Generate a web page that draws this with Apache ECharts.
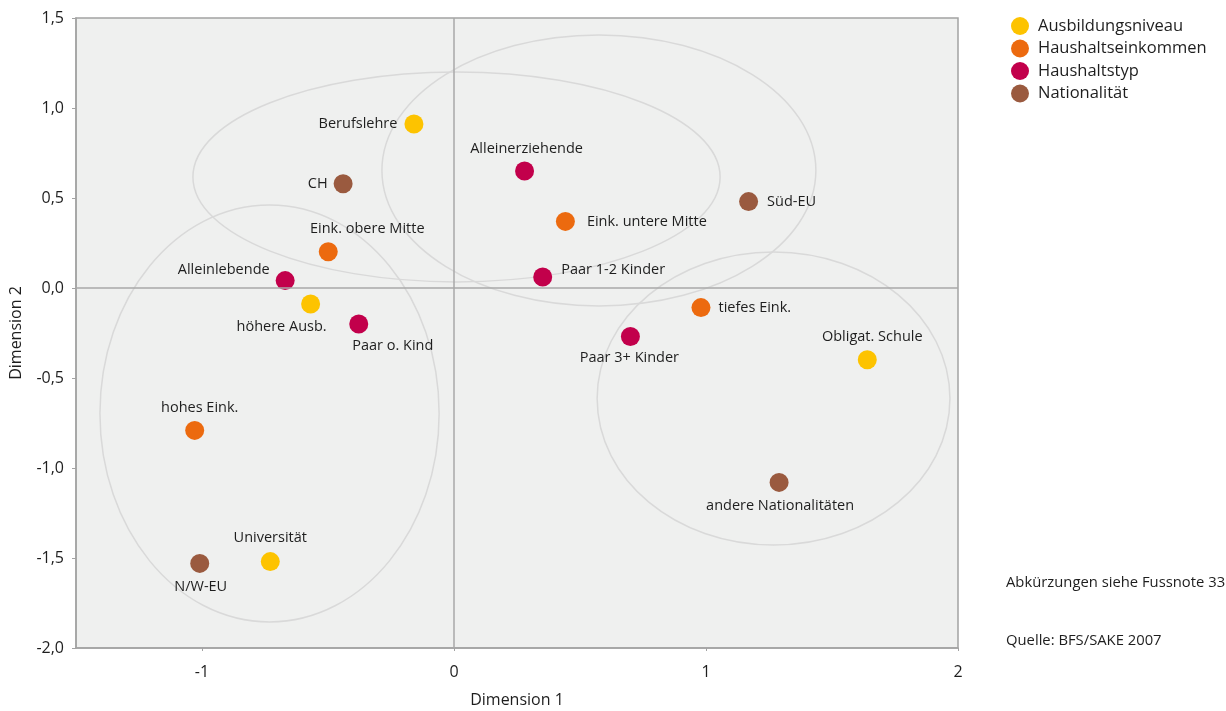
<!DOCTYPE html>
<html>
<head>
<meta charset="utf-8">
<script src="https://cdn.jsdelivr.net/npm/echarts@6/dist/echarts.min.js"></script>
<style>
html,body{margin:0;padding:0;background:#fff;}
#chart{width:1226px;height:711px;}
</style>
</head>
<body>
<div id="chart"></div>
<script>
// ---- data ----
const groupNames = ['Ausbildungsniveau', 'Haushaltseinkommen', 'Haushaltstyp', 'Nationalität'];
const groupColors = ['#FDC300', '#EC6A0F', '#C2004B', '#9A5A3F'];

const pointNames = ['Berufslehre', 'höhere Ausb.', 'Obligat. Schule', 'Universität',
  'Eink. untere Mitte', 'Eink. obere Mitte', 'tiefes Eink.', 'hohes Eink.',
  'Alleinerziehende', 'Paar 1-2 Kinder', 'Paar 3+ Kinder', 'Alleinlebende', 'Paar o. Kind',
  'CH', 'Süd-EU', 'andere Nationalitäten', 'N/W-EU'];
const pointX = [-0.159, -0.569, 1.640, -0.729,
  0.442, -0.499, 0.980, -1.029,
  0.280, 0.352, 0.700, -0.670, -0.378,
  -0.440, 1.169, 1.290, -1.009];
const pointY = [0.911, -0.089, -0.399, -1.520,
  0.370, 0.201, -0.109, -0.791,
  0.650, 0.061, -0.269, 0.041, -0.200,
  0.579, 0.480, -1.080, -1.530];
const pointGroup = [0, 0, 0, 0, 1, 1, 1, 1, 2, 2, 2, 2, 2, 3, 3, 3, 3];

// ellipses (data units)
const ellipseCx = [0.010, 0.575, -0.732, 1.268];
const ellipseCy = [0.617, 0.653, -0.697, -0.614];
const ellipseRx = [1.046, 0.861, 0.673, 0.700];
const ellipseRy = [0.583, 0.753, 1.158, 0.814];

// ticks
const xTicks = [-1, 0, 1, 2];
const yTicks = [-2, -1.5, -1, -0.5, 0, 0.5, 1, 1.5];

// label placement (style): [position, offsetX, offsetY, distance]
const labelPlace = {
  'Berufslehre': ['left', 0, 0, 7],
  'höhere Ausb.': ['bottom', -29, 0, 6],
  'Obligat. Schule': ['top', 5, 0, 6],
  'Universität': ['top', 0, 0, 7],
  'Eink. untere Mitte': ['right', 0, 0, 12],
  'Eink. obere Mitte': ['top', 39, 0, 6],
  'tiefes Eink.': ['right', 0, 0, 8],
  'hohes Eink.': ['top', 5, 0, 6],
  'Alleinerziehende': ['top', 2, 0, 5],
  'Paar 1-2 Kinder': ['right', 0, -7, 9],
  'Paar 3+ Kinder': ['bottom', -1, 0, 4],
  'Alleinlebende': ['left', 0, -11, 6],
  'Paar o. Kind': ['bottom', 34, 0, 5],
  'CH': ['left', 0, 0, 6],
  'Süd-EU': ['right', 0, 0, 9],
  'andere Nationalitäten': ['bottom', 1, 0, 6],
  'N/W-EU': ['bottom', 1, 0, 6]
};

const FONT = '"Open Sans", "Noto Sans", sans-serif';

const chart = echarts.init(document.getElementById('chart'), null, {renderer: 'canvas'});

const ellipseData = ellipseCx.map((c, i) => [c, ellipseCy[i], ellipseRx[i], ellipseRy[i]]);

const series = [];
series.push({
  type: 'custom',
  silent: true,
  z: 1,
  data: ellipseData,
  renderItem: function (params, api) {
    const c = api.coord([api.value(0), api.value(1)]);
    const s = api.size([api.value(2), api.value(3)]);
    return {
      type: 'ellipse',
      shape: {cx: c[0], cy: c[1], rx: s[0], ry: s[1]},
      style: {fill: 'none', stroke: '#d9d9d9', lineWidth: 1.5}
    };
  },
  markLine: {
    silent: true,
    symbol: 'none',
    label: {show: false},
    lineStyle: {color: '#a8a8a8', type: 'solid', width: 1.5},
    data: [{xAxis: 0}, {yAxis: 0}]
  }
});

groupNames.forEach((g, gi) => {
  const data = [];
  pointNames.forEach((n, i) => {
    if (pointGroup[i] !== gi) return;
    const p = labelPlace[n];
    data.push({
      name: n,
      value: [pointX[i], pointY[i]],
      label: {position: p[0], offset: [p[1], p[2]], distance: p[3]}
    });
  });
  series.push({
    name: g,
    type: 'scatter',
    z: 3,
    symbol: 'circle',
    symbolSize: 19,
    itemStyle: {color: groupColors[gi], opacity: 1},
    label: {
      show: true,
      formatter: '{b}',
      color: '#1e1e1e',
      fontSize: 14.5,
      fontFamily: FONT
    },
    emphasis: {disabled: true},
    data: data
  });
});

chart.setOption({
  animation: false,
  backgroundColor: '#ffffff',
  textStyle: {fontFamily: FONT},
  grid: {
    left: 76, top: 18, width: 882, height: 630,
    outerBoundsMode: 'none',
    containLabel: false,
    show: true, backgroundColor: '#eff0ef', borderColor: '#a3a3a3', borderWidth: 1.5
  },
  legend: {
    data: groupNames,
    orient: 'vertical',
    left: 1006, top: 12,
    icon: 'circle',
    itemWidth: 18, itemHeight: 18,
    itemGap: 4.5,
    textStyle: {fontSize: 16.5, color: '#1e1e1e', fontFamily: FONT, padding: [0, 0, 0, 4]}
  },
  xAxis: {
    type: 'value',
    min: -1.5, max: 2,
    interval: 0.5,
    name: 'Dimension 1',
    nameLocation: 'middle',
    nameGap: 44,
    nameTextStyle: {fontSize: 16, color: '#1e1e1e', fontFamily: FONT},
    splitLine: {show: false},
    axisLine: {show: true, onZero: false, lineStyle: {color: '#a3a3a3', width: 1.5}},
    axisTick: {show: true, length: 3, customValues: xTicks, lineStyle: {color: '#a3a3a3'}},
    axisLabel: {customValues: xTicks, fontSize: 16, color: '#1e1e1e', margin: 16, fontFamily: FONT,
      formatter: v => String(v)}
  },
  yAxis: {
    type: 'value',
    min: -2, max: 1.5,
    interval: 0.5,
    name: 'Dimension 2',
    nameLocation: 'middle',
    nameGap: 52,
    nameTextStyle: {fontSize: 16, color: '#1e1e1e', fontFamily: FONT},
    splitLine: {show: false},
    axisLine: {show: true, onZero: false, lineStyle: {color: '#a3a3a3', width: 1.5}},
    axisTick: {show: true, length: 4, customValues: yTicks, lineStyle: {color: '#a3a3a3'}},
    axisLabel: {customValues: yTicks, fontSize: 16, color: '#1e1e1e', margin: 12, fontFamily: FONT,
      formatter: v => v.toFixed(1).replace('.', ',')}
  },
  graphic: [
    {type: 'text', left: 1006, top: 575, style: {text: 'Abkürzungen siehe Fussnote 33', fontSize: 14.8, fill: '#1e1e1e', fontFamily: FONT}},
    {type: 'text', left: 1006, top: 633, style: {text: 'Quelle: BFS/SAKE 2007', fontSize: 14.8, fill: '#1e1e1e', fontFamily: FONT}}
  ],
  series: series
});
</script>
</body>
</html>
